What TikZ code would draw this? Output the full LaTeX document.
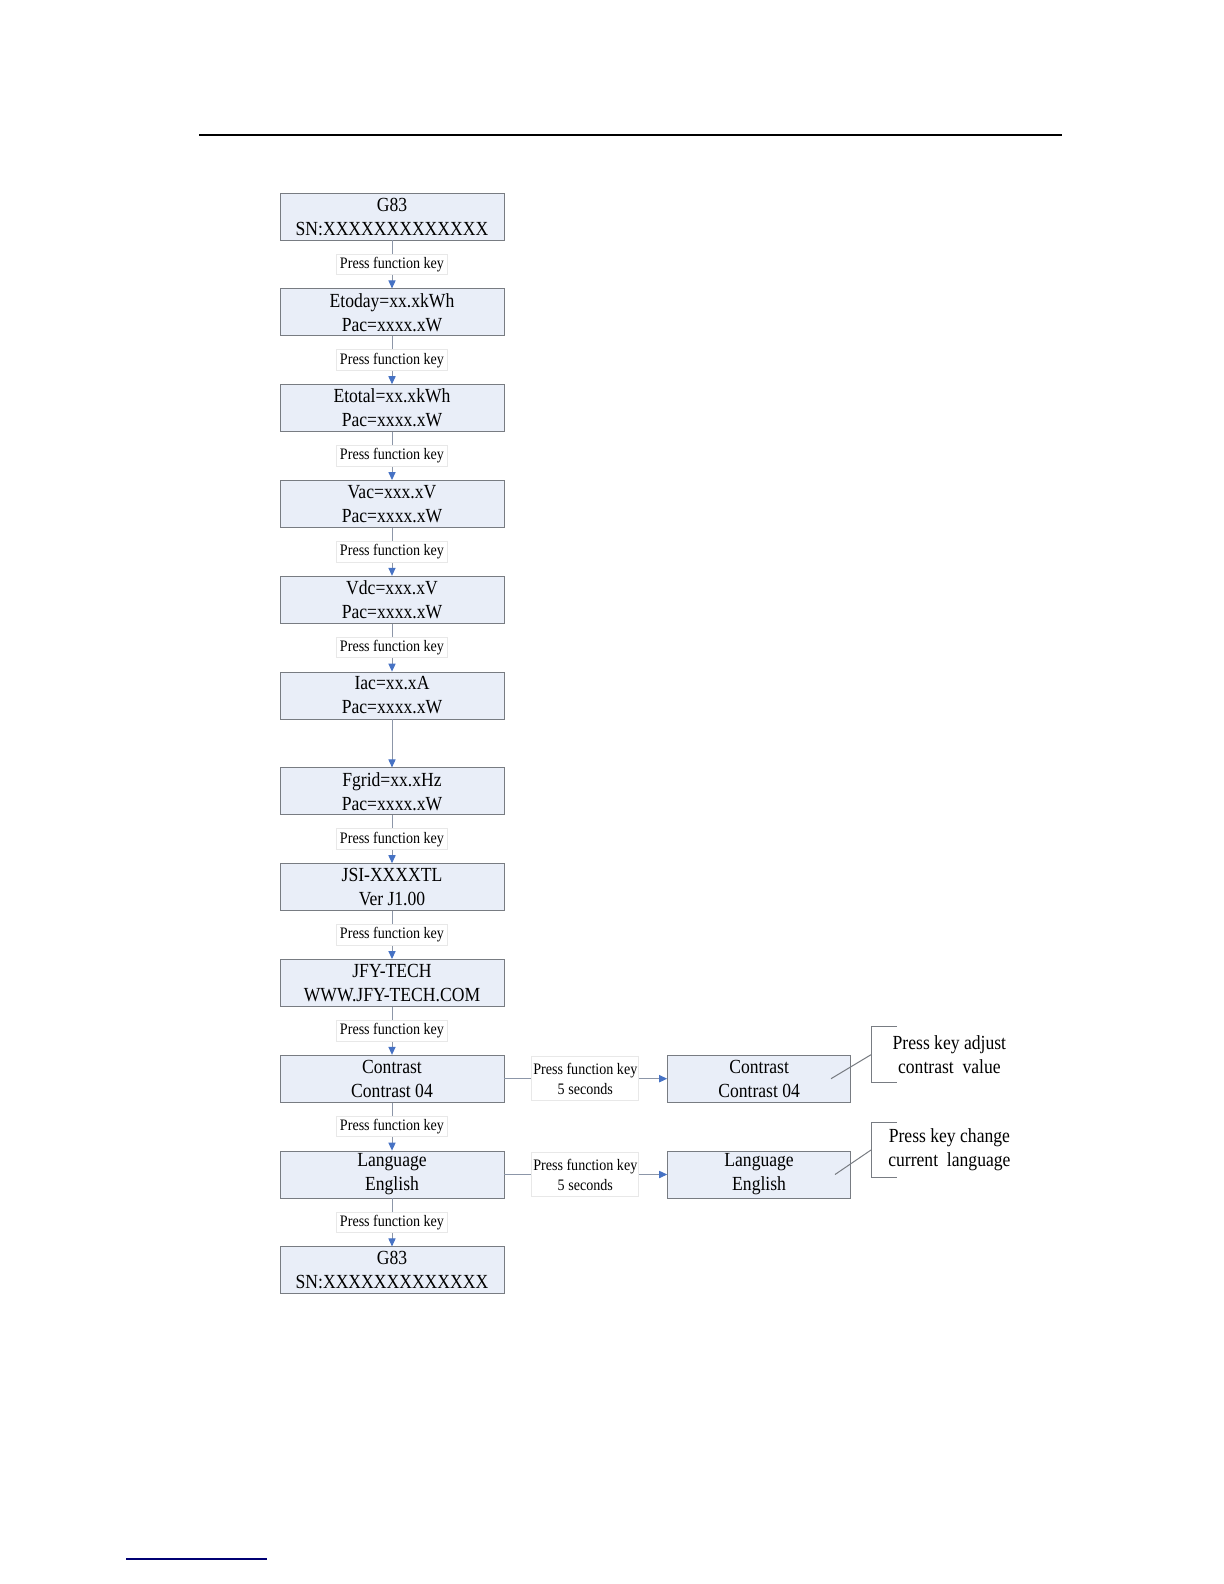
\documentclass[tikz,border=0pt]{standalone}
\usepackage{fontspec}
\setmainfont{Liberation Serif}[FakeStretch=0.88]
\usetikzlibrary{arrows.meta,positioning}
\definecolor{screenbg}{RGB}{233,238,248}
\definecolor{screenline}{RGB}{120,124,130}
\definecolor{flowline}{RGB}{140,150,168}
\definecolor{tipblue}{RGB}{70,114,196}
\tikzset{
    screen/.style={draw=screenline, fill=screenbg, align=center, minimum width=112pt, minimum height=23.5pt, inner sep=0pt, font=\fontsize{10}{12}\selectfont},
    screenset/.style={screen, minimum width=91.5pt},
    keylabel/.style={draw=gray!18, fill=white, align=center, inner sep=1.5pt, font=\fontsize{8}{10}\selectfont},
    holdlabel/.style={keylabel, minimum width=53.5pt, minimum height=22pt, inner sep=0pt},
    note/.style={align=center, minimum width=78pt, minimum height=27.5pt, inner sep=0pt, font=\fontsize{10}{12}\selectfont},
    flowarrow/.style={draw=flowline, line width=0.5pt, -{Triangle[length=4pt, width=3.6pt, color=tipblue]}},
    flowline/.style={draw=flowline, line width=0.5pt},
    bracket/.style={draw=screenline, line width=0.5pt}
}
\begin{document}
\begin{tikzpicture}[node distance=24pt]
    \useasboundingbox (0,0) rectangle (612pt,-792pt);
    % page rules
    \draw[line width=1.1pt] (99.5pt,-67.5pt) -- (531pt,-67.5pt);
    \draw[line width=0.6pt, color=blue!45!black] (63pt,-779.5pt) -- (133.5pt,-779.5pt);

    % main menu
    \node[screen] (sn) at (196pt,-108.25pt) {G83\\SN:XXXXXXXXXXXXX};
    \node[screen, below=of sn] (etoday) {Etoday=xx.xkWh\\Pac=xxxx.xW};
    \node[screen, below=of etoday] (etotal) {Etotal=xx.xkWh\\Pac=xxxx.xW};
    \node[screen, below=of etotal] (vac) {Vac=xxx.xV\\Pac=xxxx.xW};
    \node[screen, below=of vac] (vdc) {Vdc=xxx.xV\\Pac=xxxx.xW};
    \node[screen, below=of vdc] (iac) {Iac=xx.xA\\Pac=xxxx.xW};
    \node[screen, below=of iac] (fgrid) {Fgrid=xx.xHz\\Pac=xxxx.xW};
    \node[screen, below=of fgrid] (ver) {JSI-XXXXTL\\Ver J1.00};
    \node[screen, below=of ver] (web) {JFY-TECH\\WWW.JFY-TECH.COM};
    \node[screen, below=of web] (contrast) {Contrast\\Contrast 04};
    \node[screen, below=of contrast] (lang) {Language\\English};
    \node[screen, below=of lang] (snend) {G83\\SN:XXXXXXXXXXXXX};

    \foreach \a/\b in {sn/etoday, etoday/etotal, etotal/vac, vac/vdc, vdc/iac, fgrid/ver, ver/web, web/contrast, contrast/lang, lang/snend}
        \draw[flowarrow] (\a) -- node[keylabel] {Press function key} (\b);
    \draw[flowarrow] (iac) -- (fgrid);

    % settings
    \node[holdlabel, right=13.5pt of contrast] (hold1) {Press function key\\5 seconds};
    \node[screenset, right=14pt of hold1] (contrastset) {Contrast\\Contrast 04};
    \node[holdlabel, right=13.5pt of lang] (hold2) {Press function key\\5 seconds};
    \node[screenset, right=14pt of hold2] (langset) {Language\\English};

    \draw[flowline] (contrast) -- (hold1);
    \draw[flowarrow] (hold1) -- (contrastset);
    \draw[flowline] (lang) -- (hold2);
    \draw[flowarrow] (hold2) -- (langset);

    % notes
    \node[note, right=10pt of contrastset, yshift=12pt] (note1) {Press key adjust\\contrast\ \ value};
    \node[note, right=10pt of langset, yshift=12.25pt] (note2) {Press key change\\current\ \ language};
    \foreach \n/\s/\d in {note1/contrastset/10pt, note2/langset/8pt} {
        \draw[bracket] ([xshift=13pt]\n.north west) -- (\n.north west) -- (\n.south west) -- ([xshift=13pt]\n.south west);
        \draw[bracket] (\n.west) -- ([xshift=-\d]\s.east);
    }
\end{tikzpicture}
\end{document}
